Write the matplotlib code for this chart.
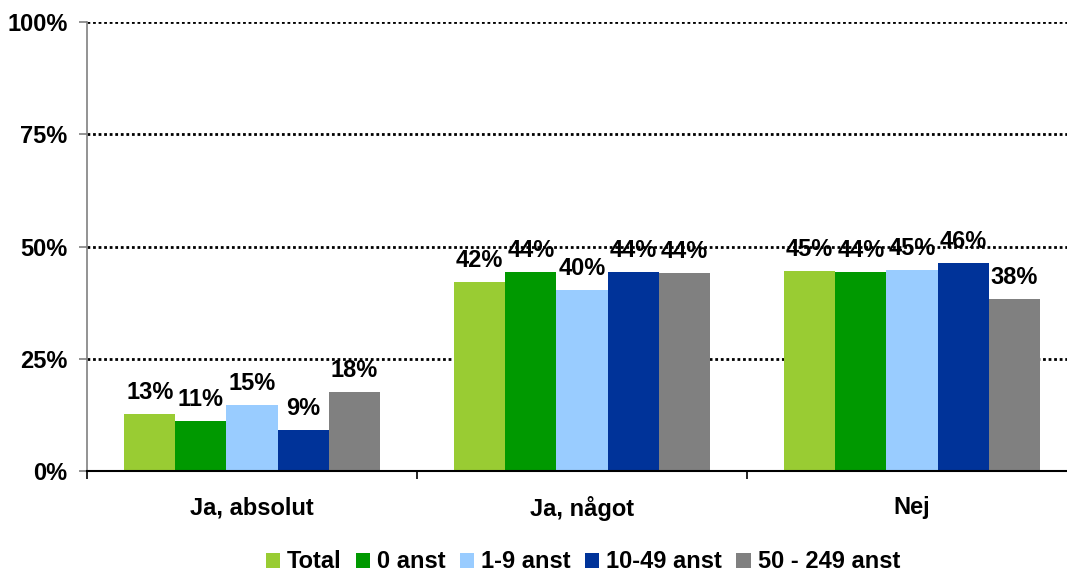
import matplotlib
matplotlib.use("Agg")
import matplotlib.pyplot as plt
import numpy as np

categories = ["Ja, absolut", "Ja, något", "Nej"]
series_names = ["Total", "0 anst", "1-9 anst", "10-49 anst", "50 - 249 anst"]
values = {
    "Total":         [12.8, 42.1, 44.6],
    "0 anst":        [11.2, 44.3, 44.3],
    "1-9 anst":      [14.7, 40.3, 44.8],
    "10-49 anst":    [9.1, 44.3, 46.3],
    "50 - 249 anst": [17.6, 44.2, 38.3],
}
colors = ["#99CC33", "#009900", "#99CCFF", "#003399", "#808080"]
yticks = [0, 25, 50, 75, 100]
ytick_labels = ["0%", "25%", "50%", "75%", "100%"]

plt.rcParams['font.family'] = ['Liberation Sans', 'DejaVu Sans']
plt.rcParams['font.weight'] = 'bold'
FS = 17

fig = plt.figure(figsize=(10.67, 5.72), dpi=100)
W, H = 1067, 572
ax = fig.add_axes([87 / W, 1 - 471 / H, (1077 - 87) / W, (471 - 22) / H])

x = np.arange(len(categories))
bw = 0.155
n = len(series_names)
for i, (name, col) in enumerate(zip(series_names, colors)):
    offs = (i - (n - 1) / 2) * bw
    bars = ax.bar(x + offs, values[name], width=bw, color=col, label=name, zorder=3)
    for b, v in zip(bars, values[name]):
        ax.annotate(f"{v:.0f}%", (b.get_x() + b.get_width() / 2, v),
                    xytext=(0, 7), textcoords="offset points",
                    ha="center", va="bottom", fontsize=FS, fontweight="bold",
                    zorder=4)

ax.set_xlim(-0.5, len(categories) - 0.5)
ax.set_ylim(0, 100)
ax.set_yticks(yticks)
ax.set_yticklabels(ytick_labels, fontsize=FS, fontweight="bold")
for y in yticks[1:]:
    ax.axhline(y, color="black", lw=2, ls=(0, (1, 1)), zorder=1)

ax.set_xticks(np.arange(len(categories) + 1) - 0.5, minor=False)
ax.set_xticklabels([])
ax.set_xticks(x, minor=True)
ax.set_xticklabels(categories, minor=True, fontsize=FS, fontweight="bold")
ax.tick_params(axis="x", which="major", length=6, width=1.2, direction="out", color="black")
ax.tick_params(axis="x", which="minor", length=0, pad=18)
ax.tick_params(axis="y", length=6, width=1.2, color="#808080", pad=8)

for s in ["top", "right"]:
    ax.spines[s].set_visible(False)
ax.spines["left"].set_color("#808080")
ax.spines["left"].set_linewidth(1.2)
ax.spines["bottom"].set_color("black")
ax.spines["bottom"].set_linewidth(1.5)
ax.spines["bottom"].set_zorder(5)

fig.legend(loc="center", bbox_to_anchor=(583 / W, 1 - 562 / H), ncol=5,
           frameon=False, handlelength=0.6, handleheight=0.6,
           handletextpad=0.3, columnspacing=0.6, borderpad=0,
           prop={"weight": "bold", "size": FS})

fig.savefig("out.png", dpi=100)
